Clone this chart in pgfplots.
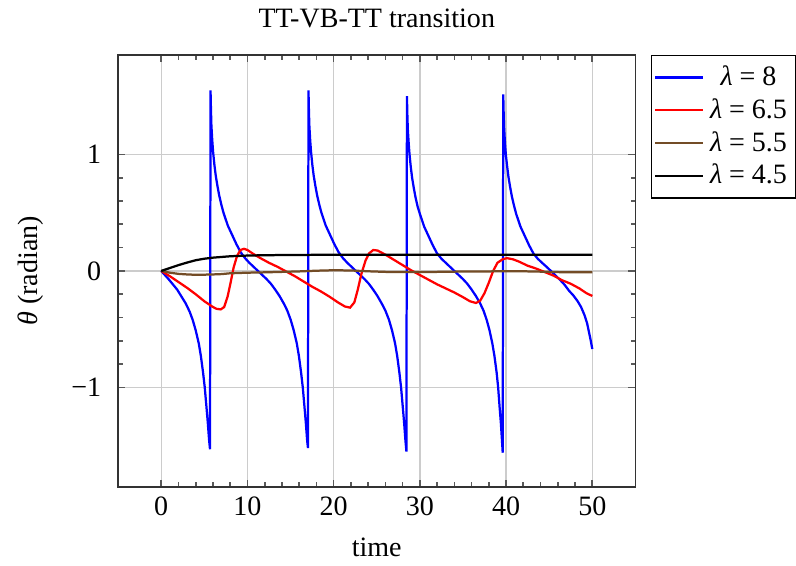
\documentclass[border=0pt]{standalone}
\usepackage{fontspec}
\setmainfont{Liberation Serif}
\usepackage{pgfplots}
\pgfplotsset{compat=1.18}
\begin{document}
\begin{tikzpicture}
\begin{axis}[
  scale only axis,
  width=184.5pt, height=154pt,
  xmin=-5, xmax=55, ymin=-1.853, ymax=1.853,
  xtick={0,10,20,30,40,50},
  xticklabels={0,10,20,30,40,50},
  ytick={-1,0,1},
  yticklabels={−1,0,1},
  minor x tick num=4,
  minor y tick num=4,
  tick align=inside,
  tick pos=both,
  major tick length=2.6pt,
  minor tick length=1.6pt,
  every tick/.style={black!65, line width=0.6pt},
  axis line style={black!80, line width=0.6pt},
  grid=major,
  major grid style={gray!40, line width=0.5pt},
  yticklabel style={xshift=-2.5pt},
  ylabel style={inner ysep=6.5pt},
  ylabel shift=-0.2pt,
  xlabel style={yshift=-1pt},
  title={TT-VB-TT transition},
  xlabel={time},
  ylabel={\textit{θ} (radian)},
  legend style={at={(1.03,1)}, anchor=north west, draw=black, font=\normalsize, inner ysep=1.5pt, inner xsep=1pt, row sep=-0.8pt},
  legend cell align=center,
  every axis plot/.append style={line width=0.8pt},
]
\addplot[blue] coordinates {
(0,0) (0.85,-0.07) (1.85,-0.16) (2.85,-0.28) (3.3,-0.35) (3.65,-0.42) (4.0,-0.51) (4.35,-0.62) (4.6,-0.73) (4.85,-0.87) (5.05,-1.0) (5.25,-1.17) (5.4,-1.3) (5.55,-1.45) (5.66,-1.53)
(5.72,1.55) (5.77,1.38) (5.82,1.25) (5.92,1.12) (6.02,1.02) (6.17,0.91) (6.32,0.82) (6.52,0.73) (6.72,0.65) (6.97,0.57) (7.22,0.50) (7.72,0.39) (8.22,0.31) (8.72,0.23) (9.22,0.16)
(9.72,0.11) (10.22,0.07) (10.72,0.035) (11.22,0.0) (11.72,-0.035) (12.22,-0.07) (12.72,-0.11) (13.22,-0.16) (13.72,-0.215) (14.22,-0.28) (14.62,-0.34) (15.02,-0.42) (15.37,-0.51) (15.72,-0.62) (15.97,-0.73) (16.22,-0.87) (16.42,-1.0) (16.62,-1.17) (16.77,-1.3) (16.92,-1.45) (17.02,-1.52)
(17.08,1.55) (17.13,1.38) (17.18,1.25) (17.28,1.12) (17.38,1.02) (17.53,0.91) (17.68,0.82) (17.88,0.73) (18.08,0.65) (18.33,0.57) (18.58,0.50) (19.08,0.39) (19.58,0.31) (20.08,0.23) (20.58,0.16)
(21.08,0.11) (21.58,0.07) (22.08,0.035) (22.58,0.0) (23.08,-0.035) (23.58,-0.07) (24.08,-0.11) (24.58,-0.16) (25.08,-0.215) (25.58,-0.28) (26.0,-0.34) (26.42,-0.42) (26.77,-0.51) (27.12,-0.62) (27.37,-0.73) (27.62,-0.87) (27.82,-1.0) (28.02,-1.17) (28.17,-1.3) (28.32,-1.45) (28.44,-1.55)
(28.50,1.50) (28.55,1.34) (28.60,1.22) (28.70,1.10) (28.80,1.00) (28.95,0.89) (29.10,0.80) (29.30,0.71) (29.50,0.63) (29.75,0.55) (30.00,0.49) (30.50,0.38) (31.00,0.30) (31.50,0.22) (32.00,0.15)
(32.50,0.105) (33.00,0.07) (33.50,0.035) (34.00,0.0) (34.50,-0.035) (35.00,-0.07) (35.50,-0.11) (36.00,-0.16) (36.50,-0.215) (37.00,-0.28) (37.38,-0.34) (37.75,-0.42) (38.08,-0.51) (38.40,-0.62) (38.65,-0.73) (38.90,-0.87) (39.08,-1.0) (39.25,-1.17) (39.39,-1.3) (39.52,-1.45) (39.61,-1.56)
(39.67,1.515) (39.72,1.35) (39.77,1.23) (39.87,1.10) (39.97,1.0) (40.12,0.90) (40.27,0.81) (40.47,0.72) (40.67,0.64) (40.92,0.56) (41.17,0.49) (41.67,0.38) (42.17,0.30) (42.67,0.22) (43.17,0.15)
(43.67,0.105) (44.17,0.07) (44.7,0.035) (45.2,0.0) (45.75,-0.04) (46.3,-0.08) (46.8,-0.12) (47.3,-0.17) (47.8,-0.21) (48.3,-0.26) (48.7,-0.31) (49.1,-0.38) (49.4,-0.45) (49.6,-0.52) (49.8,-0.59) (50.0,-0.67)
};
\addlegendentry{\textit{λ} = 8}
\addplot[red] coordinates {
(0,0) (1,-0.045) (2,-0.095) (3,-0.145) (4,-0.2) (5,-0.26) (5.9,-0.305) (6.4,-0.325) (6.9,-0.33) (7.3,-0.31) (7.7,-0.22)
(8.05,-0.10) (8.4,0.03) (8.8,0.13) (9.2,0.18) (9.6,0.19) (10.0,0.18) (10.6,0.15) (11.5,0.11) (12.5,0.07) (13.5,0.035)
(14.5,-0.005) (15.5,-0.045) (16.5,-0.09) (17.5,-0.135) (18.5,-0.175) (19.5,-0.22) (20.5,-0.27) (21.3,-0.305) (21.9,-0.315)
(22.4,-0.27) (22.8,-0.16) (23.2,-0.03) (23.7,0.09) (24.1,0.15) (24.6,0.18) (25.1,0.175) (26.0,0.14) (27.0,0.095) (28.0,0.05)
(29.0,0.005) (30.0,-0.035) (31.0,-0.075) (32.0,-0.115) (33.0,-0.15) (34.0,-0.185) (35.0,-0.225) (35.8,-0.26) (36.5,-0.275)
(37.0,-0.255) (37.5,-0.19) (38.0,-0.10) (38.5,0.0) (39.0,0.07) (39.6,0.10) (40.1,0.11) (40.8,0.10) (41.5,0.08) (42.5,0.045)
(43.5,0.02) (44.5,-0.01) (45.5,-0.04) (46.5,-0.08) (47.5,-0.11) (48.5,-0.15) (49.3,-0.19) (50.0,-0.215)
};
\addlegendentry{\textit{λ} = 6.5}
\addplot[brown!60!black] coordinates {
(0,0) (1,-0.015) (2,-0.025) (3,-0.03) (4,-0.033) (5,-0.032) (6,-0.03) (7,-0.027) (8,-0.02) (10,-0.015) (12,-0.012)
(14,-0.008) (16,-0.004) (18,0.002) (20,0.006) (22,0.004) (24,-0.003) (26,-0.008) (28,-0.01) (30,-0.01) (32,-0.008)
(34,-0.006) (36,-0.004) (38,-0.004) (40,-0.002) (42,-0.003) (44,-0.006) (46,-0.01) (48,-0.012) (50,-0.012)
};
\addlegendentry{\textit{λ} = 5.5}
\addplot[black] coordinates {
(0,0) (1,0.025) (2,0.05) (3,0.072) (4,0.092) (5,0.105) (6,0.114) (7,0.12) (8,0.126) (10,0.132) (12,0.135) (15,0.137)
(20,0.139) (30,0.14) (40,0.14) (50,0.14)
};
\addlegendentry{\textit{λ} = 4.5}
\end{axis}
\end{tikzpicture}
\end{document}
